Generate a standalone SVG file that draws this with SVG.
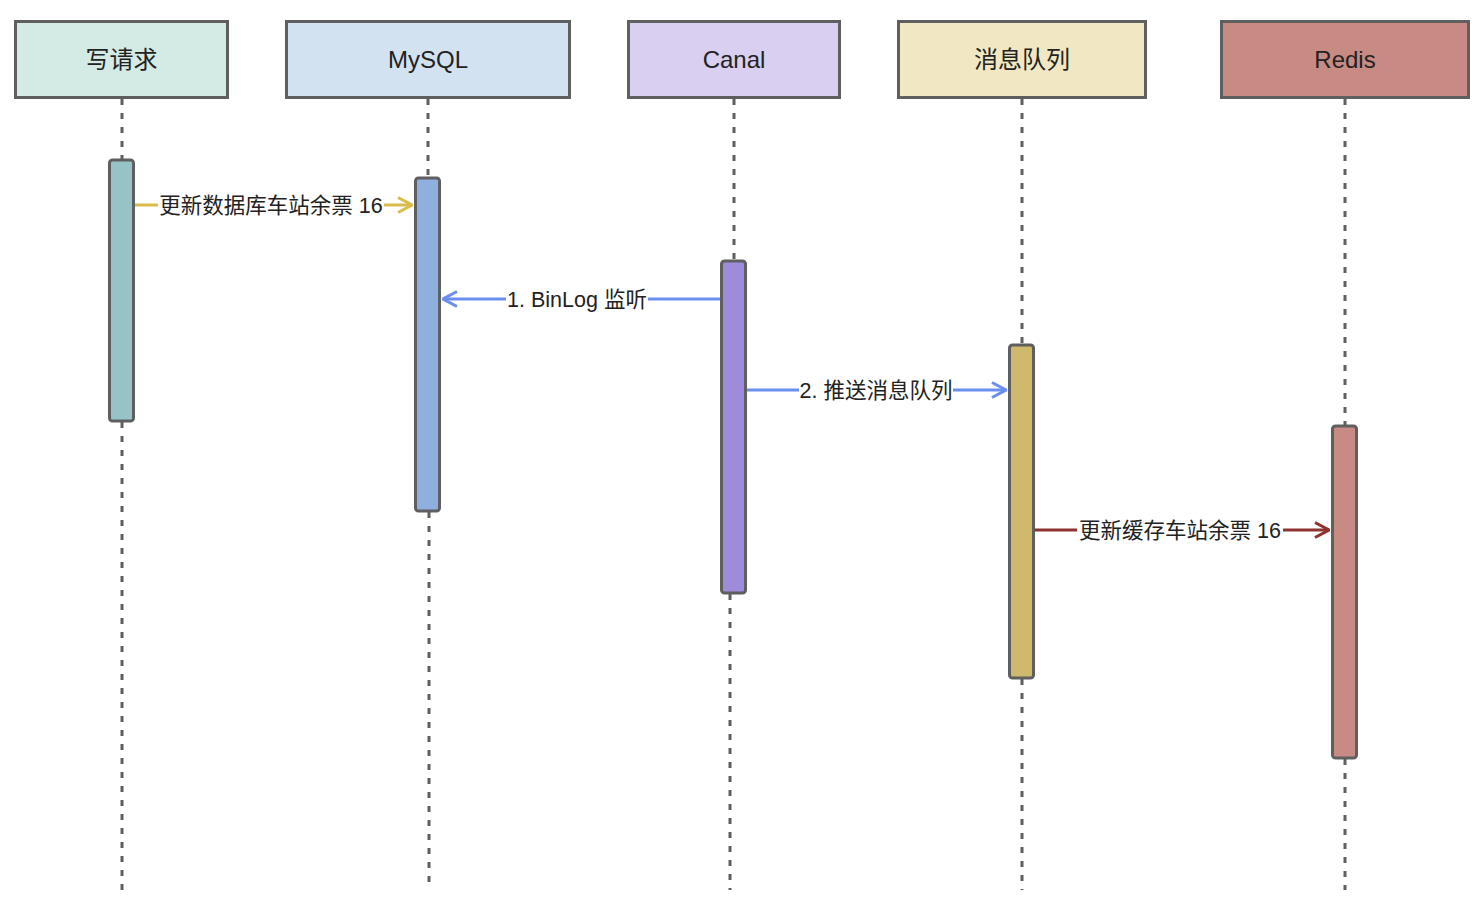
<svg xmlns="http://www.w3.org/2000/svg" width="1484" height="904" viewBox="0 0 1484 904">
<style>
.hdr{stroke:#5f5f5f;stroke-width:3}
.act{stroke:#5f5f5f;stroke-width:3}
.life{stroke:#5f5f5f;stroke-width:3;stroke-dasharray:6 8;fill:none}
.ht{font-family:"Liberation Sans","Noto Sans CJK SC",sans-serif;font-size:24px;fill:#222;text-anchor:middle}
.lt{font-family:"Liberation Sans","Noto Sans CJK SC",sans-serif;font-size:21.5px;fill:#222;text-anchor:middle}
.msg{stroke-width:3;fill:none}
</style>
<defs>
<marker id="ay" viewBox="0 0 16 18" refX="15" refY="9" markerWidth="16" markerHeight="18" markerUnits="userSpaceOnUse" orient="auto"><path d="M1,1.5 L15,9 L1,16.5" fill="none" stroke="#d9bc4a" stroke-width="3"/></marker>
<marker id="ab" viewBox="0 0 16 18" refX="15" refY="9" markerWidth="16" markerHeight="18" markerUnits="userSpaceOnUse" orient="auto"><path d="M1,1.5 L15,9 L1,16.5" fill="none" stroke="#6b8ff0" stroke-width="3"/></marker>
<marker id="ar" viewBox="0 0 16 18" refX="15" refY="9" markerWidth="16" markerHeight="18" markerUnits="userSpaceOnUse" orient="auto"><path d="M1,1.5 L15,9 L1,16.5" fill="none" stroke="#8f3330" stroke-width="3"/></marker>
</defs>
<rect width="1484" height="904" fill="#ffffff"/>
<g id="lifelines">
<line class="life" x1="122" y1="99" x2="122" y2="160"/>
<line class="life" x1="122" y1="422" x2="122" y2="890"/>
<line class="life" x1="428" y1="99" x2="428" y2="178"/>
<line class="life" x1="429" y1="512" x2="429" y2="890"/>
<line class="life" x1="734" y1="99" x2="734" y2="261"/>
<line class="life" x1="730" y1="594" x2="730" y2="890"/>
<line class="life" x1="1022" y1="99" x2="1022" y2="345"/>
<line class="life" x1="1022" y1="679" x2="1022" y2="890"/>
<line class="life" x1="1345" y1="99" x2="1345" y2="426"/>
<line class="life" x1="1345" y1="759" x2="1345" y2="890"/>
</g>
<g id="n-write">
<rect class="hdr" x="15.5" y="21.5" width="212" height="76" fill="#d4ebe5"/>
<text class="ht" x="121.5" y="68">写请求</text>
<rect class="act" x="109.5" y="160" width="24" height="261" rx="3" fill="#98c3c6"/>
</g>
<g id="n-mysql">
<rect class="hdr" x="286.5" y="21.5" width="283" height="76" fill="#d3e2f1"/>
<text class="ht" x="428" y="68">MySQL</text>
<rect class="act" x="415.5" y="178" width="24" height="333" rx="3" fill="#8fafdf"/>
</g>
<g id="n-canal">
<rect class="hdr" x="628.5" y="21.5" width="211" height="76" fill="#d9d0f1"/>
<text class="ht" x="734" y="68">Canal</text>
<rect class="act" x="721.5" y="261" width="24" height="332" rx="3" fill="#9e8bd9"/>
</g>
<g id="n-mq">
<rect class="hdr" x="898.5" y="21.5" width="247" height="76" fill="#f1e8c3"/>
<text class="ht" x="1022" y="68">消息队列</text>
<rect class="act" x="1009.5" y="345" width="24" height="333" rx="3" fill="#cfb96c"/>
</g>
<g id="n-redis">
<rect class="hdr" x="1221.5" y="21.5" width="247" height="76" fill="#c88b83"/>
<text class="ht" x="1345" y="68">Redis</text>
<rect class="act" x="1332.5" y="426" width="24" height="332" rx="3" fill="#c88b83"/>
</g>
<g id="connectors">
<line class="msg" x1="135" y1="205" x2="412" y2="205" stroke="#d9bc4a" marker-end="url(#ay)"/>
<rect x="158" y="193" width="226" height="24" fill="#fff"/>
<text class="lt" x="271" y="212.5">更新数据库车站余票 16</text>
<line class="msg" x1="720" y1="299" x2="443" y2="299" stroke="#6b8ff0" marker-end="url(#ab)"/>
<rect x="506" y="287" width="142" height="24" fill="#fff"/>
<text class="lt" x="577" y="306.5">1. BinLog 监听</text>
<line class="msg" x1="747" y1="390" x2="1006" y2="390" stroke="#6b8ff0" marker-end="url(#ab)"/>
<rect x="799" y="378" width="154" height="24" fill="#fff"/>
<text class="lt" x="876" y="397.5">2. 推送消息队列</text>
<line class="msg" x1="1035" y1="530" x2="1329" y2="530" stroke="#8f3330" marker-end="url(#ar)"/>
<rect x="1077" y="518" width="206" height="24" fill="#fff"/>
<text class="lt" x="1180" y="537.5">更新缓存车站余票 16</text>
</g>
</svg>
